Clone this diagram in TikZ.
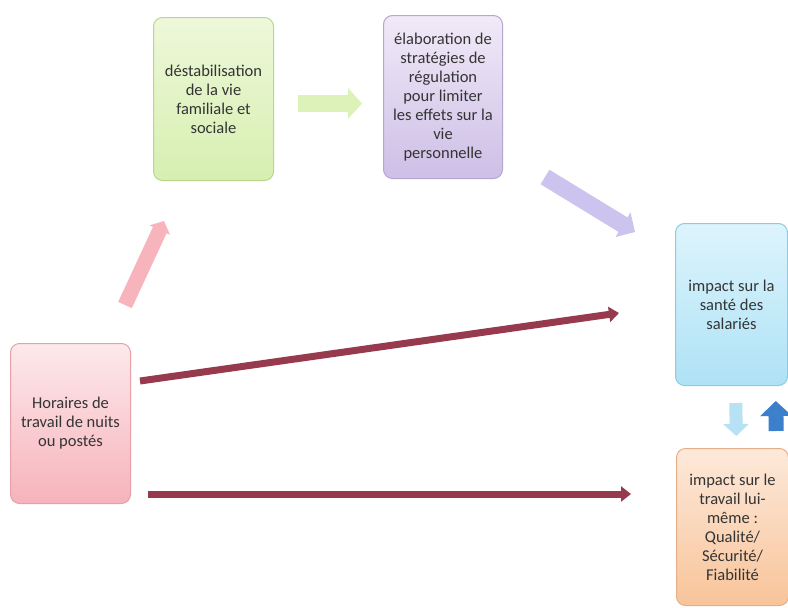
\documentclass[tikz,border=0pt]{standalone}
\usepackage{fontspec}
\setmainfont{Carlito}
\usetikzlibrary{arrows.meta}
\definecolor{txt}{HTML}{343434}
\definecolor{grnT}{HTML}{EEF8DA}
\definecolor{grnB}{HTML}{D6EFB0}
\definecolor{grnD}{HTML}{B8D68E}
\definecolor{purT}{HTML}{F1EAF8}
\definecolor{purB}{HTML}{CDBFE6}
\definecolor{purD}{HTML}{B6A6D0}
\definecolor{redT}{HTML}{FDE9EB}
\definecolor{redB}{HTML}{F6B3BB}
\definecolor{redD}{HTML}{E6A0A8}
\definecolor{bluT}{HTML}{DDF4FC}
\definecolor{bluB}{HTML}{AEE2F5}
\definecolor{bluD}{HTML}{8ECBE2}
\definecolor{orgT}{HTML}{FDE9DA}
\definecolor{orgB}{HTML}{F8C49A}
\definecolor{orgD}{HTML}{E6AE86}
\definecolor{grnA}{HTML}{DCF2B8}
\definecolor{purA}{HTML}{CCC4EE}
\definecolor{pnkA}{HTML}{F8B4BC}
\definecolor{darkA}{HTML}{983A4E}
\definecolor{lbluA}{HTML}{B6E2F4}
\definecolor{bluA}{HTML}{3C80CC}
\begin{document}
\begin{tikzpicture}[x=1pt,y=-1pt,
  box/.style={draw, line width=1pt, rounded corners=9pt, anchor=north west,
    align=center, text=txt, font=\fontsize{16.5}{19}\selectfont, inner sep=3pt},
  darkarrow/.style={draw=darkA, line width=7pt, -{Triangle[length=10pt,width=15pt]}}
]
\fill[white] (0,0) rectangle (788,608);
\useasboundingbox (0,0) rectangle (788,608);

\node[box, minimum width=120pt, minimum height=163pt, draw=grnD, top color=grnT, bottom color=grnB]
  (fam) at (153,17) {déstabilisation\\de la vie\\familiale et\\sociale};
\node[box, minimum width=119pt, minimum height=163pt, draw=purD, top color=purT, bottom color=purB]
  (reg) at (383,15) {élaboration de\\stratégies de\\régulation\\pour limiter\\les effets sur la\\vie\\personnelle};
\node[box, minimum width=120pt, minimum height=160pt, draw=redD, top color=redT, bottom color=redB]
  (hor) at (10,343) {Horaires de\\travail de nuits\\ou postés};
\node[box, minimum width=112pt, minimum height=162pt, draw=bluD, top color=bluT, bottom color=bluB]
  (sante) at (675,223) {impact sur la\\santé des\\salariés};
\node[box, minimum width=112pt, minimum height=157pt, draw=orgD, top color=orgT, bottom color=orgB]
  (trav) at (676,448) {impact sur le\\travail lui-\\même :\\Qualité/\\Sécurité/\\Fiabilité};

% light block arrows
\draw[draw=grnA, line width=17pt, -{Triangle[length=14pt,width=30pt]},
  shorten <=24pt, shorten >=21pt] ([yshift=-4.5pt]fam.east) -- ([yshift=-6.5pt]reg.west);

\coordinate (pa) at (545,177);
\coordinate (pb) at (635,232);
\draw[draw=purA, line width=17pt, -{Triangle[length=14pt,width=28pt]}] (pa) -- (pb);

\coordinate (ka) at (125,305);
\coordinate (kb) at (164,221);
\draw[draw=pnkA, line width=15pt, -{Triangle[length=10pt,width=22pt]}] (ka) -- (kb);

% dark red arrows
\coordinate (d1a) at (140,381);
\coordinate (d1b) at (619,313);
\draw[darkarrow] (d1a) -- (d1b);
\coordinate (d2a) at (148,494);
\coordinate (d2b) at (631,494);
\draw[darkarrow] (d2a) -- (d2b);

% small arrows between the right boxes
\draw[draw=lbluA, line width=13pt, -{Triangle[length=12pt,width=25pt]},
  shorten <=17pt, shorten >=12pt] ([xshift=4pt]sante.south) -- ([xshift=4pt]trav.north);
\draw[draw=bluA, line width=15pt, -{Triangle[length=15pt,width=31pt]},
  shorten <=17pt, shorten >=15pt] ([xshift=44pt]trav.north) -- ([xshift=44pt]sante.south);
\end{tikzpicture}
\end{document}
